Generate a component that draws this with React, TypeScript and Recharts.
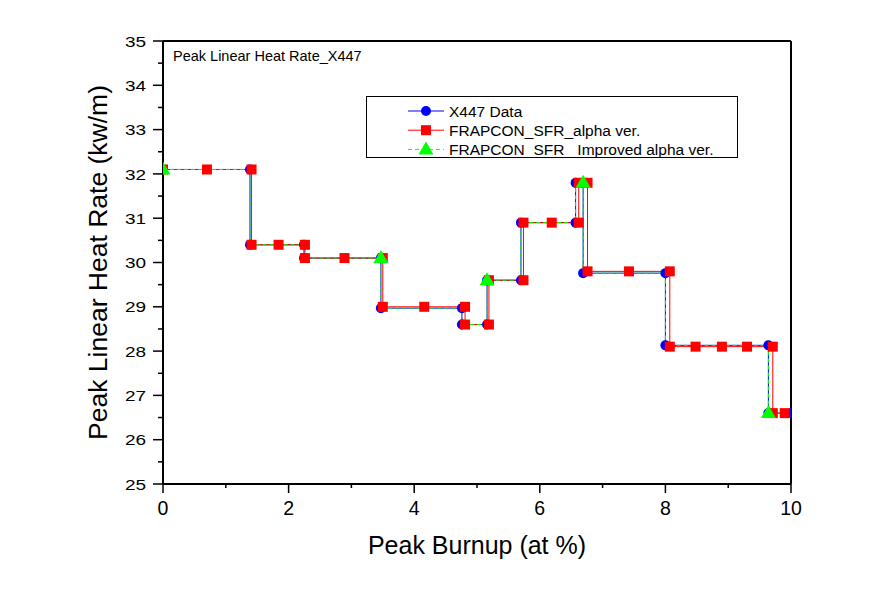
import React from "react";
import { LineChart, Line, XAxis, YAxis, Legend, ReferenceLine, Label } from "recharts";

/* X447 measured data (step history) */
const X447_BURNUP = [0, 1.385, 1.385, 2.245, 2.245, 3.47, 3.47, 4.76, 4.76, 5.16, 5.16, 5.7, 5.7, 6.57, 6.57, 6.69, 6.69, 8.0, 8.0, 9.64, 9.64, 10.0];
const X447_LHR = [32.1, 32.1, 30.4, 30.4, 30.1, 30.1, 28.97, 28.97, 28.6, 28.6, 29.6, 29.6, 30.9, 30.9, 31.8, 31.8, 29.76, 29.76, 28.13, 28.13, 26.6, 26.6];

/* FRAPCON_SFR alpha ver. */
const ALPHA_BURNUP = [0, 0.7, 1.41, 1.41, 1.84, 2.26, 2.26, 2.89, 3.5, 3.5, 4.16, 4.81, 4.81, 5.19, 5.19, 5.74, 5.74, 6.19, 6.62, 6.62, 6.76, 6.76, 7.42, 8.07, 8.07, 8.48, 8.9, 9.3, 9.71, 9.71, 9.9];
const ALPHA_LHR = [32.1, 32.1, 32.1, 30.4, 30.4, 30.4, 30.1, 30.1, 30.1, 29.0, 29.0, 29.0, 28.6, 28.6, 29.6, 29.6, 30.9, 30.9, 30.9, 31.8, 31.8, 29.8, 29.8, 29.8, 28.1, 28.1, 28.1, 28.1, 28.1, 26.6, 26.6];

/* FRAPCON_SFR_ Improved alpha ver. */
const IMPROVED_BURNUP = [0, 1.385, 1.385, 2.245, 2.245, 3.47, 3.47, 4.76, 4.76, 5.16, 5.16, 5.7, 5.7, 6.57, 6.57, 6.69, 6.69, 8.0, 8.0, 9.64, 9.64, 10.0];
const IMPROVED_LHR = [32.1, 32.1, 30.4, 30.4, 30.1, 30.1, 28.97, 28.97, 28.6, 28.6, 29.6, 29.6, 30.9, 30.9, 31.8, 31.8, 29.76, 29.76, 28.13, 28.13, 26.6, 26.6];

/* axis ticks */
const X_TICKS = [0, 1, 2, 3, 4, 5, 6, 7, 8, 9, 10];
const Y_TICKS = [25, 25.5, 26, 26.5, 27, 27.5, 28, 28.5, 29, 29.5, 30, 30.5, 31, 31.5, 32, 32.5, 33, 33.5, 34, 34.5, 35];

/* improved series shows a symbol on every 5th point */
const IMPROVED_SYMBOL_SKIP = 5;

const FONT = "'Liberation Sans', Arial, sans-serif";
const BLUE = "#0000ff";
const RED = "#ff0000";
const GREEN = "#00ff00";

const toPoints = (xs: number[], ys: number[]) => xs.map((x, i) => ({ x, y: ys[i] }));

const x447Data = toPoints(X447_BURNUP, X447_LHR);
const alphaData = toPoints(ALPHA_BURNUP, ALPHA_LHR);
const improvedData = toPoints(IMPROVED_BURNUP, IMPROVED_LHR);

/* markers */
const circle = (cx: number, cy: number, key?: any) => <circle key={key} cx={cx} cy={cy} r={5} fill={BLUE} />;
const square = (cx: number, cy: number, key?: any) => (
  <rect key={key} x={cx - 5} y={cy - 5} width={10} height={10} fill={RED} />
);
const triangle = (cx: number, cy: number, key?: any) => (
  <polygon key={key} points={`${cx},${cy - 8} ${cx + 7.5},${cy + 5} ${cx - 7.5},${cy + 5}`} fill={GREEN} />
);

const BlueDot = (p: any) => circle(p.cx, p.cy, p.key);
const RedDot = (p: any) => square(p.cx, p.cy, p.key);
const GreenDot = (p: any) =>
  p.index % IMPROVED_SYMBOL_SKIP === 0 ? triangle(p.cx, p.cy, p.key) : <g key={p.key} />;

/* tick renderers (major ticks labelled, minor ticks shorter) */
const XTick = ({ x, y, payload }: any) => {
  const major = payload.value % 2 === 0;
  return (
    <g>
      <line x1={x} x2={x} y1={y} y2={y + (major ? 9 : 4)} stroke="#000" strokeWidth={1.5} />
      {major && (
        <text x={x} y={y + 31} textAnchor="middle" fontSize={19.5} fontFamily={FONT} fill="#000">
          {payload.value}
        </text>
      )}
    </g>
  );
};

const YTick = ({ x, y, payload }: any) => {
  const major = payload.value % 1 === 0;
  return (
    <g>
      <line x1={x} x2={x - (major ? 10 : 5)} y1={y} y2={y} stroke="#000" strokeWidth={1.5} />
      {major && (
        <g transform={`translate(${x - 17}, ${y}) scale(1, 0.8)`}>
          <text x={0} y={7} textAnchor="end" fontSize={19} fontFamily={FONT} fill="#000">
            {payload.value}
          </text>
        </g>
      )}
    </g>
  );
};

/* legend box */
const LEGEND_ITEMS = [
  { label: "X447 Data", color: BLUE, dash: undefined, marker: circle },
  { label: "FRAPCON_SFR_alpha ver.", color: RED, dash: undefined, marker: square },
  { label: "FRAPCON_SFR_ Improved alpha ver.", color: GREEN, dash: "4 3", marker: triangle },
];

const renderLegend = () => (
  <svg width={373} height={63} style={{ display: "block" }}>
    <rect x={0.5} y={0.5} width={371} height={61} fill="#fff" stroke="#000" strokeWidth={1} />
    {LEGEND_ITEMS.map((item, i) => {
      const cy = 15 + i * 19.2;
      return (
        <g key={item.label}>
          <line x1={42} x2={78} y1={cy} y2={cy} stroke={item.color} strokeWidth={1} strokeDasharray={item.dash} />
          {item.marker(60, cy)}
          <text x={83} y={cy + 5.5} fontSize={15.5} fontFamily={FONT} fill="#000">
            {item.label}
          </text>
        </g>
      );
    })}
  </svg>
);

export default function App() {
  return (
    <div style={{ position: "absolute", left: 0, top: 0, width: 888, height: 591, background: "#fff" }}>
      <LineChart width={888} height={591} margin={{ top: 41, right: 97, bottom: 27, left: 43 }}>
        <XAxis
          type="number"
          dataKey="x"
          domain={[0, 10]}
          ticks={X_TICKS}
          interval={0}
          allowDataOverflow
          height={80}
          tick={<XTick />}
          tickSize={0}
          tickMargin={0}
          tickLine={false}
          axisLine={{ stroke: "#000", strokeWidth: 2 }}
        >
          <Label
            content={({ viewBox }: any) => (
              <text
                x={viewBox.x + viewBox.width / 2}
                y={viewBox.y + 70}
                textAnchor="middle"
                fontSize={25}
                fontFamily={FONT}
                fill="#000"
              >
                Peak Burnup (at %)
              </text>
            )}
          />
        </XAxis>
        <YAxis
          type="number"
          dataKey="y"
          domain={[25, 35]}
          ticks={Y_TICKS}
          interval={0}
          allowDataOverflow
          width={120}
          tick={<YTick />}
          tickSize={0}
          tickMargin={0}
          tickLine={false}
          axisLine={{ stroke: "#000", strokeWidth: 2 }}
        >
          <Label
            content={({ viewBox }: any) => {
              const cx = viewBox.x + viewBox.width - 56;
              const cy = viewBox.y + viewBox.height / 2;
              return (
                <text
                  x={cx}
                  y={cy}
                  transform={`rotate(-90, ${cx}, ${cy})`}
                  textAnchor="middle"
                  fontSize={26.5}
                  fontFamily={FONT}
                  fill="#000"
                >
                  Peak Linear Heat Rate (kw/m)
                </text>
              );
            }}
          />
        </YAxis>
        <ReferenceLine y={35} stroke="#000" strokeWidth={2} ifOverflow="visible" />
        <ReferenceLine x={10} stroke="#000" strokeWidth={2} ifOverflow="visible" />
        <ReferenceLine
          y={34.6}
          stroke="none"
          ifOverflow="visible"
          label={({ viewBox }: any) => (
            <text x={viewBox.x + 10} y={viewBox.y + 2} fontSize={14.5} fontFamily={FONT} fill="#000">
              Peak Linear Heat Rate_X447
            </text>
          )}
        />
        <Line
          data={x447Data}
          dataKey="y"
          type="linear"
          stroke={BLUE}
          strokeWidth={1}
          dot={BlueDot}
          activeDot={false}
          isAnimationActive={false}
          name="X447 Data"
        />
        <Line
          data={alphaData}
          dataKey="y"
          type="linear"
          stroke={RED}
          strokeWidth={1}
          dot={RedDot}
          activeDot={false}
          isAnimationActive={false}
          name="FRAPCON_SFR_alpha ver."
        />
        <Line
          data={improvedData}
          dataKey="y"
          type="linear"
          stroke={GREEN}
          strokeWidth={1}
          strokeDasharray="4 3"
          dot={GreenDot}
          activeDot={false}
          isAnimationActive={false}
          name="FRAPCON_SFR_ Improved alpha ver."
        />
        <Legend
          content={renderLegend}
          layout="horizontal"
          verticalAlign="middle"
          align="center"
          wrapperStyle={{ position: "absolute", left: 366, top: 96, width: 373, height: 63 }}
        />
      </LineChart>
    </div>
  );
}
